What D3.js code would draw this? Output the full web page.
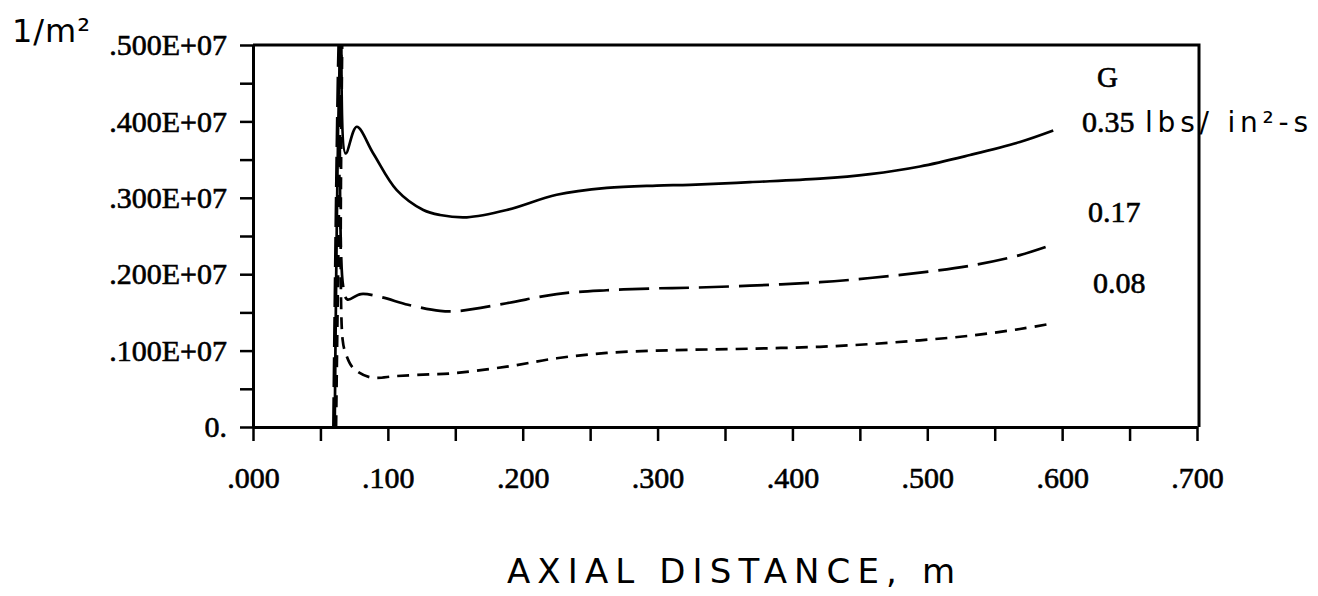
<!DOCTYPE html>
<html>
<head>
<meta charset="utf-8">
<script src="https://cdn.jsdelivr.net/npm/d3@7"></script>
<style>
  body { margin: 0; background: #fff; }
  svg { display: block; }
</style>
</head>
<body>
<svg id="chart" width="1318" height="596"></svg>
<script>
// values in units of 1e6 (1/m^2), x in m; each curve shoots up past the top near x=.065 then comes back
var xG035 = [0.0606, 0.0651, 0.0687, 0.0769, 0.0892, 0.1066, 0.1263, 0.1387, 0.1585, 0.1881, 0.2252, 0.2623, 0.2993, 0.324, 0.3685, 0.4204, 0.4575, 0.4946, 0.5317, 0.5687, 0.5934];
var yG035 = [0, 5.3, 3.58, 3.93, 3.58, 3.10, 2.84, 2.775, 2.745, 2.84, 3.04, 3.13, 3.16, 3.17, 3.205, 3.25, 3.31, 3.41, 3.56, 3.73, 3.88];

var xG017 = [0.0596, 0.0641, 0.0668, 0.0700, 0.0800, 0.0950, 0.1150, 0.1387, 0.1535, 0.1881, 0.2252, 0.2623, 0.2993, 0.324, 0.3685, 0.4204, 0.4575, 0.4946, 0.5317, 0.5687, 0.5934];
var yG017 = [0, 5.3, 1.85, 1.67, 1.74, 1.70, 1.60, 1.52, 1.52, 1.62, 1.74, 1.79, 1.815, 1.823, 1.85, 1.895, 1.95, 2.02, 2.11, 2.25, 2.39];

var xG008 = [0.0616, 0.0661, 0.0664, 0.0690, 0.0744, 0.0868, 0.1066, 0.1313, 0.146, 0.1881, 0.2252, 0.2623, 0.2993, 0.324, 0.3685, 0.4204, 0.4575, 0.4946, 0.5317, 0.5687, 0.5934];
var yG008 = [0, 5.3, 1.15, 0.95, 0.77, 0.65, 0.667, 0.69, 0.70, 0.79, 0.90, 0.97, 1.00, 1.01, 1.025, 1.05, 1.085, 1.135, 1.195, 1.283, 1.357];

var xTicks = [0, 0.1, 0.2, 0.3, 0.4, 0.5, 0.6, 0.7];
var xTickLabels = [".000", ".100", ".200", ".300", ".400", ".500", ".600", ".700"];
var xMinor = [0.05, 0.15, 0.25, 0.35, 0.45, 0.55, 0.65];
var yTicks = [0, 1, 2, 3, 4, 5];
var yTickLabels = ["0.", ".100E+07", ".200E+07", ".300E+07", ".400E+07", ".500E+07"];
var yMinor = [0.5, 1.5, 2.5, 3.5, 4.5];

var seriesLabels = ["G", "0.35", "0.17", "0.08"];

var svg = d3.select("#chart"),
    mLeft = 253, mRight = 1197, mTop = 45, mBottom = 427;

var x = d3.scaleLinear().domain([0, 0.7]).range([mLeft, mRight]);
var y = d3.scaleLinear().domain([0, 5]).range([mBottom, mTop]);

var serif = "'Liberation Serif', 'Times New Roman', serif";
var hand = "'DejaVu Sans', sans-serif";

// clip
svg.append("clipPath").attr("id", "plot")
  .append("rect").attr("x", mLeft).attr("y", mTop).attr("width", mRight - mLeft).attr("height", mBottom - mTop);

// frame top & right
svg.append("path")
  .attr("d", "M" + mLeft + "," + mTop + "H" + (mRight + 2) + "V" + mBottom)
  .style("fill", "none").style("stroke", "#000").style("stroke-width", 3);

// axes
function styleAxis(g) {
  g.select(".domain").style("stroke-width", 3);
  g.selectAll(".tick line").style("stroke-width", 2.5);
  g.selectAll("text")
    .style("font-family", serif)
    .style("font-size", "30px")
    .style("fill", "#000")
    .style("stroke", "#000")
    .style("stroke-width", 0.6);
}

svg.append("g")
  .attr("transform", "translate(0," + mBottom + ")")
  .call(d3.axisBottom(x).tickValues(xMinor).tickSize(14).tickFormat("").tickSizeOuter(0))
  .call(styleAxis);
svg.append("g")
  .attr("transform", "translate(0," + mBottom + ")")
  .call(d3.axisBottom(x).tickValues(xTicks).tickSize(14).tickPadding(26).tickSizeOuter(0)
    .tickFormat(function(d, i) { return xTickLabels[i]; }))
  .call(styleAxis);

svg.append("g")
  .attr("transform", "translate(" + mLeft + ",0)")
  .call(d3.axisLeft(y).tickValues(yMinor).tickSize(13).tickFormat("").tickSizeOuter(0))
  .call(styleAxis);
svg.append("g")
  .attr("transform", "translate(" + mLeft + ",0)")
  .call(d3.axisLeft(y).tickValues(yTicks).tickSize(13).tickPadding(13).tickSizeOuter(0)
    .tickFormat(function(d, i) { return yTickLabels[i]; }))
  .call(styleAxis);

// curves
var line = d3.line()
  .x(function(d) { return x(d[0]); })
  .y(function(d) { return y(d[1]); })
  .curve(d3.curveCatmullRom.alpha(0.5));

function drawSeries(xs, ys, dash) {
  svg.append("path")
    .datum(d3.zip(xs, ys))
    .attr("clip-path", "url(#plot)")
    .attr("d", line)
    .style("fill", "none")
    .style("stroke", "#000")
    .style("stroke-width", 2.7)
    .style("stroke-linejoin", "round")
    .style("stroke-dasharray", dash);
}
drawSeries(xG035, yG035, null);
drawSeries(xG017, yG017, "30,10");
drawSeries(xG008, yG008, "12,8");

// curve labels
function label(tx, ty, txt, size) {
  svg.append("text")
    .attr("x", tx).attr("y", ty)
    .style("font-family", serif)
    .style("font-size", size + "px")
    .style("stroke", "#000").style("stroke-width", 0.6)
    .text(txt);
}
label(1097, 87, seriesLabels[0], 29);
label(1082, 132, seriesLabels[1], 30);
label(1088, 222, seriesLabels[2], 30);
label(1093, 293, seriesLabels[3], 30);

// handwritten notes
svg.append("text")
  .attr("x", 1145).attr("y", 132)
  .attr("textLength", 163).attr("lengthAdjust", "spacing")
  .style("font-family", hand).style("font-size", "28px")
  .text("lbs/ in²-s");

svg.append("text")
  .attr("x", 12).attr("y", 42)
  .attr("textLength", 78).attr("lengthAdjust", "spacing")
  .style("font-family", hand).style("font-size", "32px")
  .text("1/m²");

svg.append("text")
  .attr("x", 507).attr("y", 583)
  .attr("textLength", 448).attr("lengthAdjust", "spacing")
  .style("font-family", hand).style("font-size", "34px")
  .text("AXIAL DISTANCE, m");
</script>
</body>
</html>
